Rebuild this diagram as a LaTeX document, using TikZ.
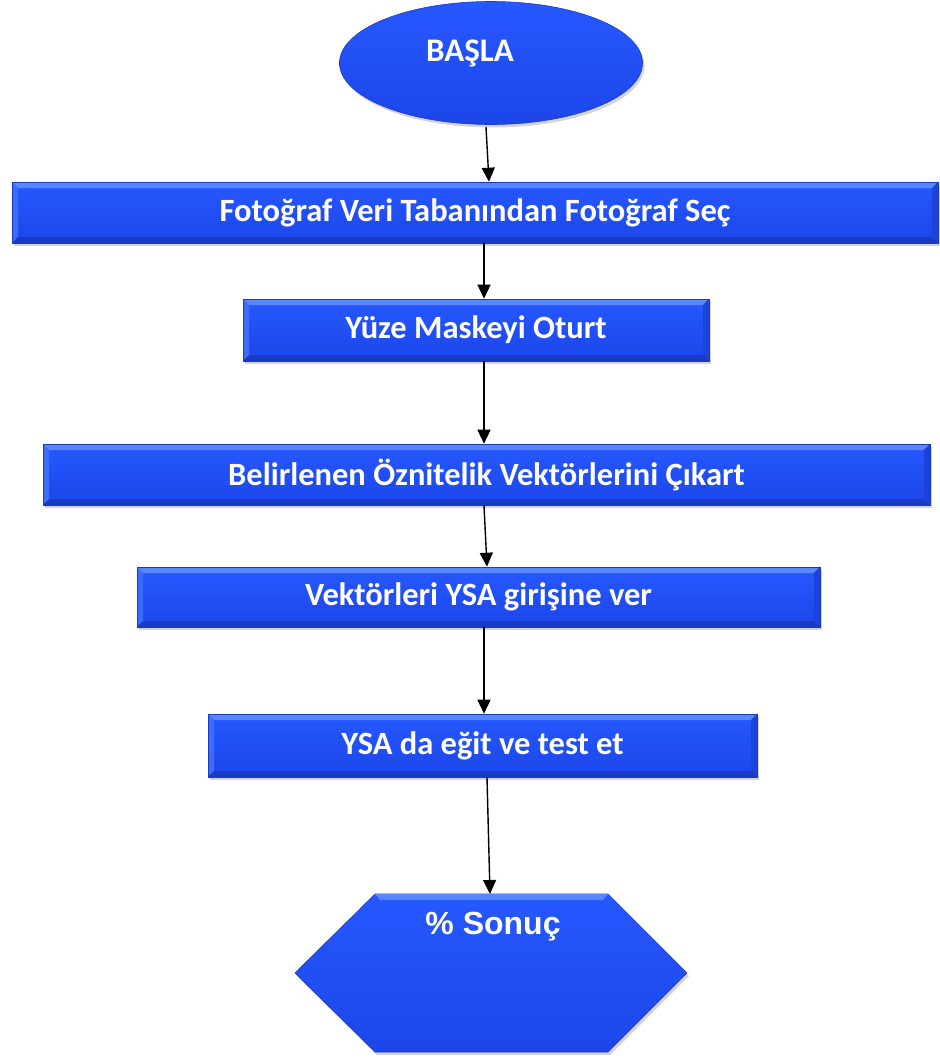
\documentclass[tikz,border=0pt]{standalone}
\usepackage{fontspec}
\setmainfont{Carlito}
\newfontfamily\arialfont{Liberation Sans}
\usetikzlibrary{shapes.geometric,arrows.meta,shadows}
\definecolor{bluemain}{RGB}{31,80,255}
\definecolor{bluetop}{RGB}{38,88,255}
\definecolor{bluebot}{RGB}{28,70,232}
\definecolor{bevlight}{RGB}{90,135,255}
\definecolor{bevdark}{RGB}{25,58,195}
\tikzset{
  stepbox/.style={rectangle, inner sep=0pt, top color=bluetop, bottom color=bluebot,
    draw=bevdark, line width=0.6pt,
    drop shadow={opacity=0.35, shadow xshift=2pt, shadow yshift=-3pt},
    text=white, font=\bfseries\fontsize{32.5}{38}\selectfont,
    path picture={
      \fill[bevlight] (path picture bounding box.north west) -- (path picture bounding box.north east)
        -- ([shift={(-6pt,-6pt)}]path picture bounding box.north east) -- ([shift={(6pt,-6pt)}]path picture bounding box.north west) -- cycle;
      \fill[bevlight!50!bluemain] (path picture bounding box.north west) -- ([shift={(6pt,-6pt)}]path picture bounding box.north west)
        -- ([shift={(6pt,6pt)}]path picture bounding box.south west) -- (path picture bounding box.south west) -- cycle;
      \fill[bevdark] (path picture bounding box.south west) -- (path picture bounding box.south east)
        -- ([shift={(-6pt,6pt)}]path picture bounding box.south east) -- ([shift={(6pt,6pt)}]path picture bounding box.south west) -- cycle;
      \fill[bevdark!60!bluemain] (path picture bounding box.north east) -- ([shift={(-6pt,-6pt)}]path picture bounding box.north east)
        -- ([shift={(-6pt,6pt)}]path picture bounding box.south east) -- (path picture bounding box.south east) -- cycle;
    }},
  flowarrow/.style={line width=1.4pt, -{Triangle[width=13pt,length=14pt]}},
  lbl/.style={text=white, inner sep=0pt, font=\bfseries\fontsize{33}{38}\selectfont}
}
\begin{document}
\begin{tikzpicture}[x=1pt,y=-1pt]
\useasboundingbox (0,0) rectangle (940,1058);
% start ellipse
\node[ellipse, draw=bevdark, line width=0.6pt, top color=bluetop, bottom color=bluebot,
  drop shadow={opacity=0.35, shadow xshift=2pt, shadow yshift=-3pt},
  minimum width=303pt, minimum height=123pt, inner sep=0pt] (start) at (491,63) {};
\node[lbl] (starttxt) at (470,53) {BAŞLA};
% boxes
\node[stepbox, minimum width=926pt, minimum height=61pt] (b1) at (475,212.5) {Fotoğraf Veri Tabanından Fotoğraf Seç};
\node[stepbox, minimum width=466pt, minimum height=62pt] (b2) at (476,330) {Yüze Maskeyi Oturt};
\node[stepbox, minimum width=887pt, minimum height=61pt] (b3) at (486.5,474.5) {Belirlenen Öznitelik Vektörlerini Çıkart};
\node[stepbox, minimum width=683pt, minimum height=60pt] (b4) at (478.5,597) {Vektörleri YSA girişine ver};
\node[stepbox, minimum width=549pt, minimum height=63pt] (b5) at (482.5,745.5) {YSA da eğit ve test et};
% end hexagon
\path[draw=bevdark, line width=0.6pt, top color=bluetop, bottom color=bluebot,
  drop shadow={opacity=0.35, shadow xshift=2pt, shadow yshift=-3pt}]
  (375,894) -- (608,894) -- (687,973) -- (608,1052) -- (375,1052) -- (295,973) -- cycle;
\fill[bevlight] (375,894) -- (608,894) -- (603,900) -- (380,900) -- cycle;
\coordinate (hextop) at (491,894);
\node[text=white, inner sep=0pt, font=\arialfont\bfseries\fontsize{32}{38}\selectfont] (endtxt) at (493,927) {\% Sonuç};
% connectors
\draw[flowarrow] (486,127) -- (b1.north -| 489,0);
\draw[flowarrow] (b1.south -| 484,0) -- (b2.north -| 484,0);
\draw[flowarrow] (b2.south -| 484,0) -- (b3.north -| 484,0);
\draw[flowarrow] (b3.south -| 484,0) -- (b4.north -| 487,0);
\draw[flowarrow] (b4.south -| 484,0) -- (b5.north -| 484,0);
\draw[flowarrow] (b5.south -| 487,0) -- (hextop -| 490,0);
\end{tikzpicture}
\end{document}
